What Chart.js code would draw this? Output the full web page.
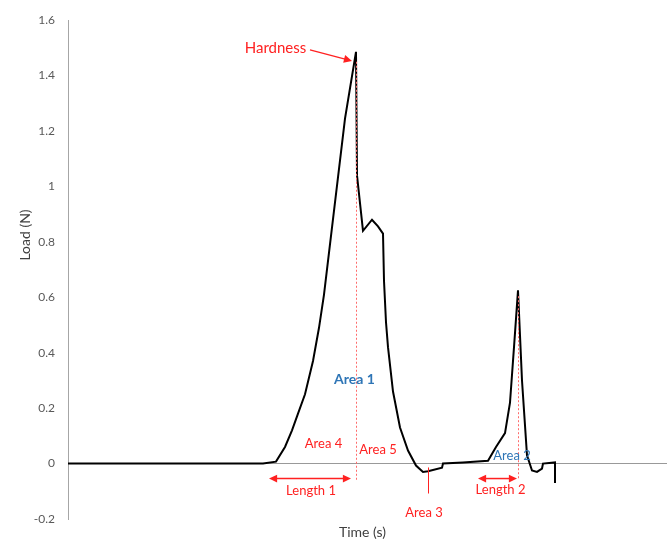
<!DOCTYPE html>
<html>
<head>
<meta charset="utf-8">
<script src="https://cdn.jsdelivr.net/npm/chart.js@4.4.0/dist/chart.umd.min.js"></script>
<style>
    html, body { margin: 0; padding: 0; background: #fff; }
    #wrap { width: 667px; height: 540px; position: relative; }
</style>
</head>
<body>
<div id="wrap"><canvas id="chart"></canvas></div>
<script>
// load curve (time in arbitrary seconds)
const timeValues = [0, 19.5, 20.8, 21.7, 22.4, 23.0, 23.7, 24.5, 25.1, 25.6, 27.7, 28.8, 28.9, 29.5, 30.4, 31.0, 31.5, 31.6, 31.8, 32.0, 32.5, 33.2, 34.0, 34.8, 35.5, 36.0, 37.4, 37.5, 39.5, 42.0, 42.8, 43.7, 44.2, 44.6, 45.0, 45.4, 45.9, 46.4, 46.9, 47.4, 47.5, 48.7, 48.7];
const loadValues = [0, 0, 0.007, 0.06, 0.12, 0.18, 0.25, 0.37, 0.49, 0.61, 1.245, 1.486, 1.04, 0.84, 0.88, 0.856, 0.83, 0.66, 0.51, 0.42, 0.26, 0.13, 0.047, -0.007, -0.03, -0.028, -0.015, 0, 0.004, 0.01, 0.06, 0.11, 0.22, 0.42, 0.625, 0.30, 0.03, -0.025, -0.03, -0.018, 0, 0.004, -0.07];

const yTicks = [-0.2, 0, 0.2, 0.4, 0.6, 0.8, 1, 1.2, 1.4, 1.6];
const xRange = [0, 59.9];

// annotations, in data units
const redLabels = [
    { text: 'Hardness', t: 20.75, v: 1.50, size: 15 },
    { text: 'Area 4', t: 25.55, v: 0.072, size: 13 },
    { text: 'Area 5', t: 31.0, v: 0.050, size: 13 },
    { text: 'Length 1', t: 24.3, v: -0.097, size: 13 },
    { text: 'Area 3', t: 35.6, v: -0.176, size: 13 },
    { text: 'Length 2', t: 43.25, v: -0.094, size: 13 }
];
const blueLabels = [
    { text: 'Area 1', t: 28.65, v: 0.304, bold: true, size: 14 },
    { text: 'Area 2', t: 44.4, v: 0.029, bold: false, size: 13 }
];
const dottedLines = [
    { t: 28.8, from: 1.45, to: -0.058 },
    { t: 45.0, from: 0.604, to: -0.058 }
];
const lengthArrows = [
    { from: 20.1, to: 28.3, v: -0.054 },
    { from: 41.0, to: 44.9, v: -0.054 }
];
const area3Marker = { t: 36.0, from: -0.014, to: -0.108 };
const hardnessArrow = { t1: 24.2, v1: 1.493, t2: 28.4, v2: 1.453 };

const RED = '#ff2121';
const BLUE = '#2e75b6';
const FONT = 'Lato, "Open Sans", sans-serif';

function arrowHead(c, x1, y1, x2, y2, size) {
    const a = Math.atan2(y2 - y1, x2 - x1);
    c.beginPath();
    c.moveTo(x2, y2);
    c.lineTo(x2 - size * Math.cos(a - 0.45), y2 - size * Math.sin(a - 0.45));
    c.lineTo(x2 - size * Math.cos(a + 0.45), y2 - size * Math.sin(a + 0.45));
    c.closePath();
    c.fill();
}

const annotationPlugin = {
    id: 'annotations',
    afterDatasetsDraw(chart) {
        const { ctx: c, scales: { x, y } } = chart;
        const px = t => x.getPixelForValue(t);
        const py = v => y.getPixelForValue(v);
        c.save();

        // dotted guides
        c.strokeStyle = '#ff6b6b';
        c.lineWidth = 1;
        c.setLineDash([2, 2]);
        dottedLines.forEach(d => {
            c.beginPath();
            c.moveTo(Math.round(px(d.t)) + 0.5, py(d.from));
            c.lineTo(Math.round(px(d.t)) + 0.5, py(d.to));
            c.stroke();
        });
        c.setLineDash([]);

        // length arrows
        c.strokeStyle = RED;
        c.fillStyle = RED;
        c.lineWidth = 1.5;
        lengthArrows.forEach(a => {
            const x1 = px(a.from), x2 = px(a.to), yy = py(a.v);
            c.beginPath();
            c.moveTo(x1 + 4, yy);
            c.lineTo(x2 - 4, yy);
            c.stroke();
            arrowHead(c, x2 - 10, yy, x2, yy, 9);
            arrowHead(c, x1 + 10, yy, x1, yy, 9);
        });

        // area 3 marker
        c.lineWidth = 1;
        c.beginPath();
        c.moveTo(Math.round(px(area3Marker.t)) + 0.5, py(area3Marker.from));
        c.lineTo(Math.round(px(area3Marker.t)) + 0.5, py(area3Marker.to));
        c.stroke();

        // hardness arrow
        const h = hardnessArrow;
        c.lineWidth = 1.2;
        c.beginPath();
        c.moveTo(px(h.t1), py(h.v1));
        c.lineTo(px(h.t2) - 6, py(h.v2) - 1.5);
        c.stroke();
        arrowHead(c, px(h.t1), py(h.v1), px(h.t2), py(h.v2), 9);

        // labels
        c.textAlign = 'center';
        c.textBaseline = 'middle';
        redLabels.forEach(l => {
            c.font = l.size + 'px ' + FONT;
            c.fillStyle = RED;
            c.fillText(l.text, px(l.t), py(l.v));
        });
        blueLabels.forEach(l => {
            c.font = (l.bold ? 'bold ' : '') + l.size + 'px ' + FONT;
            c.fillStyle = BLUE;
            c.fillText(l.text, px(l.t), py(l.v));
        });

        // axis titles
        c.fillStyle = '#404040';
        c.font = '14px ' + FONT;
        c.fillText('Time (s)', (chart.chartArea.left + chart.chartArea.right) / 2 - 5, 532);
        c.translate(25, 235);
        c.rotate(-Math.PI / 2);
        c.fillText('Load (N)', 0, 0);

        c.restore();
    }
};

const ctx = document.getElementById('chart');

const chart = new Chart(ctx, {
    type: 'line',
    data: {
        datasets: [
            {
                label: 'Load',
                data: timeValues.map((t, i) => ({ x: t, y: loadValues[i] })),
                borderColor: '#000000',
                borderWidth: 2,
                fill: false,
                tension: 0,
                pointRadius: 0
            }
        ]
    },
    options: {
        responsive: true,
        maintainAspectRatio: false,
        animation: false,
        layout: {
            padding: { top: 18, right: 0, bottom: 21, left: 0 }
        },
        plugins: {
            legend: { display: false },
            tooltip: { enabled: false }
        },
        scales: {
            x: {
                type: 'linear',
                min: xRange[0],
                max: xRange[1],
                display: false
            },
            y: {
                type: 'linear',
                min: yTicks[0],
                max: yTicks[yTicks.length - 1],
                afterBuildTicks: (scale) => {
                    scale.ticks = yTicks.map(v => ({ value: v }));
                },
                afterFit: (scale) => {
                    scale.width = 68;
                },
                ticks: {
                    padding: 13,
                    color: '#595959',
                    font: { family: 'Lato', size: 12 },
                    callback: (v) => String(Math.round(v * 10) / 10)
                },
                border: {
                    display: true,
                    color: '#a6a6a6',
                    width: 1
                },
                grid: {
                    drawTicks: false,
                    lineWidth: 1,
                    color: (c) => (c.tick && c.tick.value === 0 ? '#999999' : 'rgba(0,0,0,0)')
                }
            }
        }
    },
    plugins: [annotationPlugin]
});
</script>
</body>
</html>
